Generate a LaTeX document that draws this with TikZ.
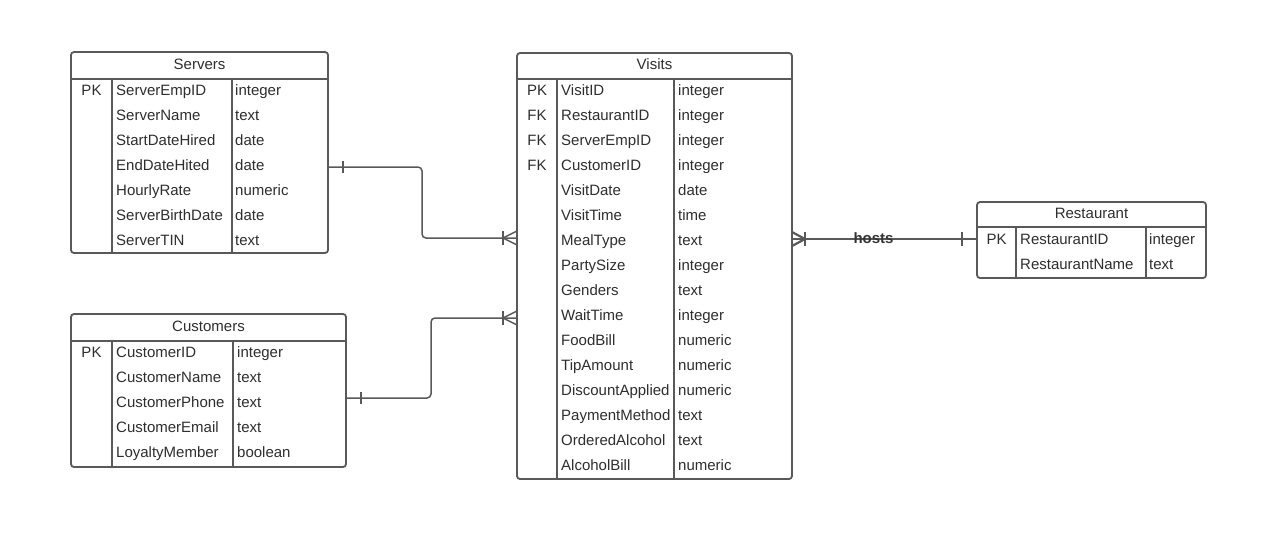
\documentclass[tikz,border=0pt]{standalone}
\usepackage{fontspec}
\setmainfont{Liberation Sans}
\usetikzlibrary{calc}
\definecolor{ln}{HTML}{595959}
\definecolor{tx}{HTML}{2E2E2E}
\tikzset{
  tbl/.style={draw=ln, line width=1.8pt, rounded corners=3pt, anchor=north west, inner sep=0pt, outer sep=0pt, fill=white},
  rule/.style={draw=ln, line width=1.8pt},
  ttl/.style={font=\fontsize{15}{18}\selectfont, text=tx, anchor=base, inner sep=0pt},
  fld/.style={font=\fontsize{15}{18}\selectfont, text=tx, anchor=base west, inner sep=0pt},
  keyc/.style={font=\fontsize{15}{18}\selectfont, text=tx, anchor=base, inner sep=0pt},
  conn/.style={draw=ln, line width=1.5pt, rounded corners=4pt},
  notch/.style={draw=ln, line width=1.5pt},
  rel/.style={draw=ln, line width=2.4pt},
  notchb/.style={draw=ln, line width=2.2pt},
  lbl/.style={font=\bfseries\fontsize{15}{18}\selectfont, text=tx!85!ln, anchor=base, inner sep=0pt},
}
\begin{document}
\begin{tikzpicture}[x=1pt,y=-1pt]
\useasboundingbox[fill=white] (0,0) rectangle (1280,542);

% ---------- Servers ----------
\node[tbl, minimum width=257pt, minimum height=201pt] (servers) at (71,52) {};
\draw[rule] (71,79) -- (328,79);
\draw[rule] (112,79) -- (112,253);
\draw[rule] (232,79) -- (232,253);
\node[ttl] (servers-t) at (199.5,69.5) {Servers};
\node[keyc] (s-k0) at (91.5,95) {PK};
\foreach \n/\t [count=\i from 0] in {ServerEmpID/integer, ServerName/text, StartDateHired/date, EndDateHited/date, HourlyRate/numeric, ServerBirthDate/date, ServerTIN/text} {
  \node[fld] (s-n\i) at (116,{95+25*\i}) {\n};
  \node[fld] (s-t\i) at (235,{95+25*\i}) {\t};
}

% ---------- Customers ----------
\node[tbl, minimum width=275pt, minimum height=153pt] (customers) at (71,314) {};
\draw[rule] (71,341) -- (346,341);
\draw[rule] (112,341) -- (112,467);
\draw[rule] (233,341) -- (233,467);
\node[ttl] (customers-t) at (208.5,331) {Customers};
\node[keyc] (c-k0) at (91.5,357) {PK};
\foreach \n/\t [count=\i from 0] in {CustomerID/integer, CustomerName/text, CustomerPhone/text, CustomerEmail/text, LoyaltyMember/boolean} {
  \node[fld] (c-n\i) at (116,{357+25*\i}) {\n};
  \node[fld] (c-t\i) at (237,{357+25*\i}) {\t};
}

% ---------- Visits ----------
\node[tbl, minimum width=275pt, minimum height=426pt] (visits) at (517,53) {};
\draw[rule] (517,79) -- (792,79);
\draw[rule] (557,79) -- (557,479);
\draw[rule] (674,79) -- (674,479);
\node[ttl] (visits-t) at (654.5,69) {Visits};
\foreach \k [count=\i from 0] in {PK, FK, FK, FK} {
  \node[keyc] (v-k\i) at (537,{95+25*\i}) {\k};
}
\foreach \n/\t [count=\i from 0] in {VisitID/integer, RestaurantID/integer, ServerEmpID/integer, CustomerID/integer, VisitDate/date, VisitTime/time, MealType/text, PartySize/integer, Genders/text, WaitTime/integer, FoodBill/numeric, TipAmount/numeric, DiscountApplied/numeric, PaymentMethod/text, OrderedAlcohol/text, AlcoholBill/numeric} {
  \node[fld] (v-n\i) at (561,{95+25*\i}) {\n};
  \node[fld] (v-t\i) at (678,{95+25*\i}) {\t};
}

% ---------- Restaurant ----------
\node[tbl, minimum width=229pt, minimum height=76pt] (restaurant) at (977,202) {};
\draw[rule] (977,227) -- (1206,227);
\draw[rule] (1016,227) -- (1016,278);
\draw[rule] (1146,227) -- (1146,278);
\node[ttl] (restaurant-t) at (1091.5,218) {Restaurant};
\node[keyc] (r-k0) at (996.5,244) {PK};
\foreach \n/\t [count=\i from 0] in {RestaurantID/integer, RestaurantName/text} {
  \node[fld] (r-n\i) at (1020,{244+25*\i}) {\n};
  \node[fld] (r-t\i) at (1149,{244+25*\i}) {\t};
}

% ---------- Servers -> Visits ----------
\coordinate (sv1) at ($(servers.north east)+(0,115)$);
\coordinate (sv2) at ($(visits.north west)+(0,185)$);
\draw[conn] (sv1) -- (422,167) -- (422,238) -- (sv2);
\draw[notch] (343,161) -- (343,173);
\draw[notch] (503,231) -- (503,245);
\draw[notch] (517,231) -- (503,238) -- (517,245);

% ---------- Customers -> Visits ----------
\coordinate (cv1) at ($(customers.north east)+(0,84)$);
\coordinate (cv2) at ($(visits.north west)+(0,265)$);
\draw[conn] (cv1) -- (431,398) -- (431,318) -- (cv2);
\draw[notch] (361,392) -- (361,404);
\draw[notch] (503,311) -- (503,325);
\draw[notch] (517,311) -- (503,318) -- (517,325);

% ---------- Visits -> Restaurant ----------
\coordinate (vr1) at ($(visits.north east)+(0,186)$);
\coordinate (vr2) at ($(restaurant.north west)+(0,37)$);
\draw[rel] (vr1) -- (vr2);
\draw[notchb] (805,232) -- (805,246);
\draw[notchb] (792,232) -- (805,239) -- (792,246);
\draw[notchb] (962,232) -- (962,246);
\node[lbl] (hosts) at (873.5,243) {hosts};
\end{tikzpicture}
\end{document}
